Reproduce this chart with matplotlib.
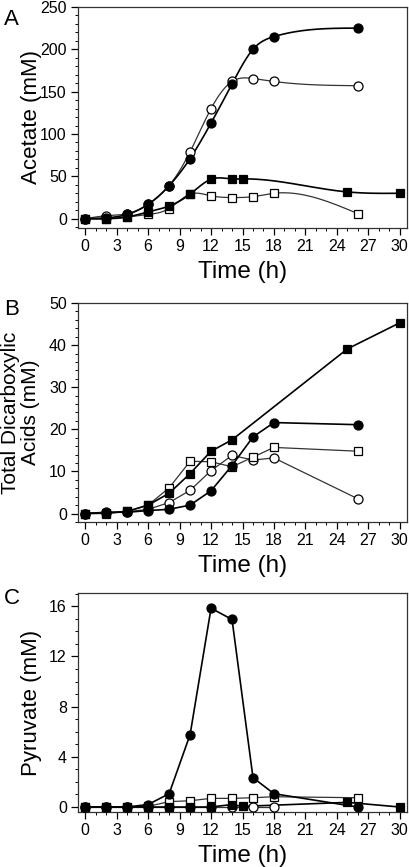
import numpy as np
import matplotlib
matplotlib.use("Agg")
import matplotlib.pyplot as plt
from matplotlib.ticker import MultipleLocator

plt.rcParams["font.family"] = ["Liberation Sans", "DejaVu Sans"]

# Panel A: acetate (mM)
a_fc_t = [0, 2, 4, 6, 8, 10, 12, 14, 16, 18, 26]
a_fc_y = [0, 1, 5, 17, 39, 71, 113, 159, 200, 215, 225]
a_oc_t = [0, 2, 4, 6, 8, 10, 12, 14, 16, 18, 26]
a_oc_y = [0, 3.5, 6, 17, 39, 79, 130, 162, 165.5, 162, 157]
a_fs_t = [0, 2, 4, 6, 8, 10, 12, 14, 15, 25, 30]
a_fs_y = [0, 0, 2, 8, 15, 29, 46.6, 47, 47, 31.6, 30]
a_os_t = [0, 2, 4, 6, 8, 10, 12, 14, 16, 18, 26]
a_os_y = [0, 0, 2, 5, 12, 29, 27, 25, 26, 30, 6]

# Panel B: total dicarboxylic acids (mM)
b_fs_t = [0, 2, 4, 6, 8, 10, 12, 14, 25, 30]
b_fs_y = [0, 0.1, 0.5, 2.0, 4.8, 9.5, 14.8, 17.5, 39.1, 45.3]
b_fc_t = [0, 2, 4, 6, 8, 10, 12, 14, 16, 18, 26]
b_fc_y = [0, 0.3, 0.3, 0.7, 1.0, 2.0, 5.4, 11.4, 18.2, 21.6, 21.1]
b_oc_t = [0, 2, 4, 6, 8, 10, 12, 14, 16, 18, 26]
b_oc_y = [0, 0.2, 0.4, 1.0, 2.6, 5.5, 10.2, 13.8, 12.7, 13.2, 3.5]
b_os_t = [0, 2, 4, 6, 8, 10, 12, 14, 16, 18, 26]
b_os_y = [0, 0, 0.5, 2.0, 6.1, 12.4, 12.3, 11.1, 13.4, 15.7, 14.8]

# Panel C: pyruvate (mM)
c_fc_t = [0, 2, 4, 6, 8, 10, 12, 14, 16, 18, 26]
c_fc_y = [0, 0, 0, 0.2, 1.06, 5.77, 15.85, 14.95, 2.34, 1.06, 0]
c_os_t = [0, 2, 4, 6, 8, 10, 12, 14, 16, 18, 26]
c_os_y = [0, 0, 0, 0.05, 0.43, 0.5, 0.69, 0.69, 0.74, 0.82, 0.74]
c_oc_t = [0, 2, 4, 6, 8, 10, 12, 14, 16, 18]
c_oc_y = [0, 0, 0, 0, 0, 0, 0, 0, 0, 0]
c_fs_t = [0, 2, 4, 6, 8, 10, 12, 14, 15, 25, 30]
c_fs_y = [0, 0, 0, 0, 0, 0, 0, 0.2, 0.05, 0.37, 0]


def spline(t, y, n=400):
    # natural cubic spline through the data points, only used for drawing
    t = np.asarray(t, float)
    y = np.asarray(y, float)
    k = len(t)
    h = np.diff(t)
    A = np.zeros((k, k))
    r = np.zeros(k)
    A[0, 0] = A[-1, -1] = 1
    for i in range(1, k - 1):
        A[i, i - 1] = h[i - 1]
        A[i, i] = 2 * (h[i - 1] + h[i])
        A[i, i + 1] = h[i]
        r[i] = 3 * ((y[i + 1] - y[i]) / h[i] - (y[i] - y[i - 1]) / h[i - 1])
    c = np.linalg.solve(A, r)
    xs = np.linspace(t[0], t[-1], n)
    idx = np.clip(np.searchsorted(t, xs) - 1, 0, k - 2)
    dx = xs - t[idx]
    b = (y[1:] - y[:-1]) / h - h * (2 * c[:-1] + c[1:]) / 3
    d = (c[1:] - c[:-1]) / (3 * h)
    ys = y[idx] + b[idx] * dx + c[idx] * dx ** 2 + d[idx] * dx ** 3
    return xs, ys


def series(ax, t, y, marker, filled, smooth):
    lc = "black" if filled else "#333333"
    lw = 1.2 if filled else 0.9
    if smooth:
        xs, ys = spline(t, y)
        ax.plot(xs, ys, color=lc, lw=lw, zorder=2)
    else:
        ax.plot(t, y, color=lc, lw=lw, zorder=2)
    ax.plot(t, y, ls="none", marker=marker, ms=6.5 if marker == "o" else 6,
            mfc="black" if filled else "white", mec="black", mew=0.9, zorder=3)


def style(ax, ylim, ymaj, ymin, ylabel, lsize, lx):
    ax.set_xlim(-0.7, 30.7)
    ax.set_ylim(*ylim)
    ax.xaxis.set_major_locator(MultipleLocator(3))
    ax.xaxis.set_minor_locator(MultipleLocator(1))
    ax.yaxis.set_major_locator(MultipleLocator(ymaj))
    ax.yaxis.set_minor_locator(MultipleLocator(ymin))
    ax.tick_params(which="major", direction="out", length=5, width=0.9, labelsize=11.5, pad=3)
    ax.tick_params(which="minor", direction="out", length=2.5, width=0.7)
    for s in ax.spines.values():
        s.set_linewidth(0.9)
        s.set_color("#333333")
    ax.set_xlabel("Time (h)", fontsize=17.5, labelpad=5)
    ax.set_ylabel(ylabel, fontsize=lsize, linespacing=1.1, va="center")
    ax.yaxis.set_label_coords(lx, 0.5)


fig = plt.figure(figsize=(4.1, 8.67), dpi=100)
axA = fig.add_axes([0.19, 0.737, 0.803, 0.255])
axB = fig.add_axes([0.19, 0.398, 0.803, 0.2525])
axC = fig.add_axes([0.19, 0.0634, 0.803, 0.2526])

series(axA, a_oc_t, a_oc_y, "o", False, True)
series(axA, a_os_t, a_os_y, "s", False, True)
series(axA, a_fs_t, a_fs_y, "s", True, True)
series(axA, a_fc_t, a_fc_y, "o", True, True)
style(axA, (-11, 250), 50, 10, "Acetate (mM)", 16, -0.14)

series(axB, b_oc_t, b_oc_y, "o", False, False)
series(axB, b_os_t, b_os_y, "s", False, False)
series(axB, b_fs_t, b_fs_y, "s", True, False)
series(axB, b_fc_t, b_fc_y, "o", True, False)
style(axB, (-2, 50), 10, 2, "Total Dicarboxylic\nAcids (mM)", 15, -0.175)

series(axC, c_oc_t, c_oc_y, "o", False, False)
series(axC, c_os_t, c_os_y, "s", False, False)
series(axC, c_fs_t, c_fs_y, "s", True, False)
series(axC, c_fc_t, c_fc_y, "o", True, False)
style(axC, (-0.4, 17.06), 4, 1, "Pyruvate (mM)", 16, -0.14)

fig.text(0.01, 0.99, "A", fontsize=16, va="top", ha="left")
fig.text(0.01, 0.655, "B", fontsize=16, va="top", ha="left")
fig.text(0.01, 0.322, "C", fontsize=16, va="top", ha="left")

fig.savefig("out.png", dpi=100)
